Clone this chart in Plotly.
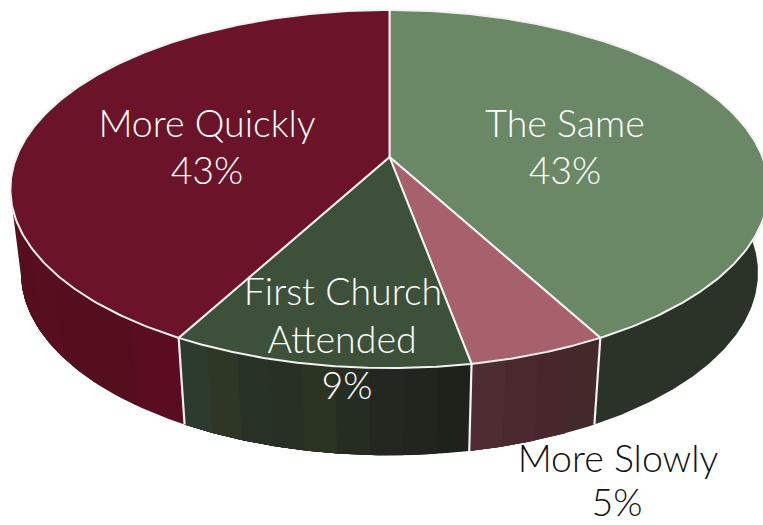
import numpy as np
import plotly.graph_objects as go

# ---- data ----
categories = ["The Same", "More Slowly", "First Church Attended", "More Quickly"]
slice_shares = [42.1, 5.0, 10.8, 42.1]      # angular share as drawn
percent_labels = ["43%", "5%", "9%", "43%"]
top_colors = ["#6B8866", "#A6616C", "#3D503A", "#6B1429"]
side_stripes = [
    ["#2B3329"],
    ["#44292A", "#47272C", "#4A282D", "#4E2C31"],
    ["#1D231B", "#21251E", "#23271F", "#252C22", "#2B3323", "#283026", "#273126", "#2E3625", "#2D3A2E"],
    ["#5A0C21", "#540E1E", "#550E1E", "#570F1F", "#560E1E", "#570F1F", "#560E1E", "#560E1E"],
]

# ---- projection of the tilted disc ----
CX, CY = 389.5, 157.0
RX, RY, PERSP = 373.0, 173.3, 0.179
SX, SY, DROP = 0.972, 1.02, 83.0
EDGE = "#F2F2F2"


def top_xy(theta):
    X, Y = np.sin(theta), np.cos(theta)
    d = 1 + PERSP * Y
    return CX + RX * X / d, CY - RY * Y / d


def bottom_xy(theta):
    x, y = top_xy(theta)
    return CX + (x - CX) * SX, CY + DROP + (y - CY) * SY


edges = np.concatenate([[0], np.cumsum(slice_shares)]) / sum(slice_shares) * 2 * np.pi
fig = go.Figure()


def poly(x, y, color, line_color=None, width=0):
    fig.add_trace(go.Scatter(
        x=x, y=y, mode="lines", fill="toself", fillcolor=color,
        line=dict(color=line_color or color, width=width), hoverinfo="skip",
        showlegend=False))


# side wall, painted first so the top covers its hidden part
lo, hi = np.radians(85), np.radians(275)
for i, stripes in enumerate(side_stripes):
    a, b = max(edges[i], lo), min(edges[i + 1], hi)
    cuts = np.linspace(a, b, len(stripes) + 1)
    for j, col in enumerate(stripes):
        t = np.linspace(cuts[j], b, 120)
        xt, yt = top_xy(t)
        xb, yb = bottom_xy(t)
        poly(np.r_[xt, xb[::-1], xt[0]], np.r_[yt, yb[::-1], yt[0]], col)

# white seams between wall pieces
for e in edges[1:-1]:
    xt, yt = top_xy(e)
    xb, yb = bottom_xy(e)
    fig.add_trace(go.Scatter(x=[xt, xb], y=[yt, yb], mode="lines",
                             line=dict(color=EDGE, width=2.2),
                             hoverinfo="skip", showlegend=False))

# top faces
for i, col in enumerate(top_colors):
    t = np.linspace(edges[i], edges[i + 1], 240)
    x, y = top_xy(t)
    poly(np.r_[CX, x, CX], np.r_[CY, y, CY], col, EDGE, 2.0)

# labels
label_lines = [
    ("More Quickly", 207, 128, "#FFFFFF"), (percent_labels[3], 207, 175, "#FFFFFF"),
    ("The Same", 565, 128, "#FFFFFF"), (percent_labels[0], 565, 175, "#FFFFFF"),
    ("First Church", 343, 296, "#FFFFFF"), ("Attended", 342, 344, "#FFFFFF"),
    (percent_labels[2], 347, 390, "#FFFFFF"),
    ("More Slowly", 618, 463, "#111111"), (percent_labels[1], 617, 507, "#111111"),
]
for txt, lx, ly, col in label_lines:
    fig.add_trace(go.Scatter(
        x=[lx], y=[ly], mode="text", text=[txt], textposition="middle center",
        textfont=dict(family="Lato, sans-serif", size=37.5, color=col, weight=300),
        hoverinfo="skip", showlegend=False, cliponaxis=False))

fig.update_layout(
    width=763, height=525, margin=dict(l=0, r=0, t=0, b=0),
    paper_bgcolor="white", plot_bgcolor="white",
    xaxis=dict(range=[0, 763], visible=False, fixedrange=True),
    yaxis=dict(range=[525, 0], visible=False, fixedrange=True),
)
fig.write_html("out.html", config={"displayModeBar": False},
               post_script="document.body.style.margin='0';document.body.style.overflow='hidden';")
